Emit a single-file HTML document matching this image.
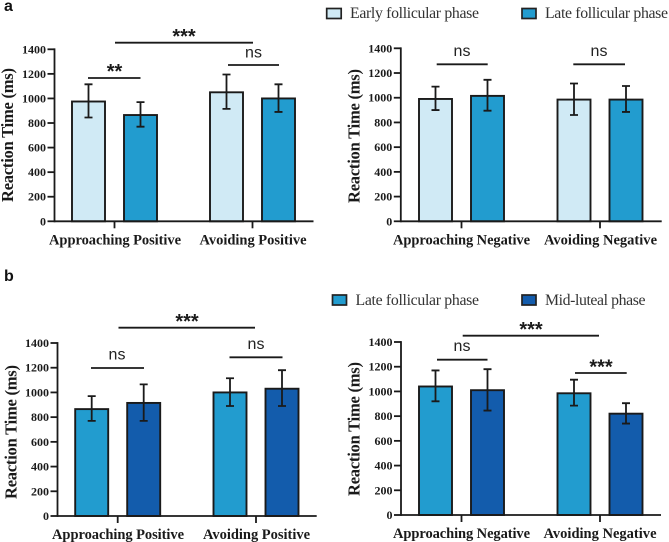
<!DOCTYPE html>
<html>
<head>
<meta charset="utf-8">
<style>
html,body{margin:0;padding:0;background:#fff;width:669px;height:542px;overflow:hidden}
svg{display:block}
text{font-family:"Liberation Serif",serif;fill:#1a1a1a}
.tick{font-size:12px;font-weight:bold}
.cat{font-size:14.5px;font-weight:bold}
.yt{font-size:16.5px;font-weight:bold}
.leg{font-size:15.8px;fill:#333}
.ns{font-family:"Liberation Sans",sans-serif;font-size:16px;fill:#222}
.star{font-family:"Liberation Sans",sans-serif;font-size:20px;font-weight:bold;fill:#1a1a1a}
.pl{font-family:"Liberation Sans",sans-serif;font-size:16px;font-weight:bold;fill:#111}
</style>
</head>
<body>
<svg id="figure" xmlns="http://www.w3.org/2000/svg" width="669" height="542" viewBox="0 0 669 542">
  <text class="pl" x="4" y="11">a</text>
  <text class="pl" x="4" y="281">b</text>

  <g>
    <rect x="326.7" y="8.5" width="14.5" height="10" fill="#d0eaf5" stroke="#222" stroke-width="1.7"/>
    <text class="leg" x="350" y="18" textLength="129" lengthAdjust="spacing">Early follicular phase</text>
    <rect x="522" y="8.5" width="14" height="10" fill="#229ccf" stroke="#222" stroke-width="1.7"/>
    <text class="leg" x="545" y="18" textLength="123" lengthAdjust="spacing">Late follicular phase</text>
  </g>
  <g>
    <rect x="332.5" y="295" width="14" height="10" fill="#229ccf" stroke="#222" stroke-width="1.7"/>
    <text class="leg" x="355.5" y="305" textLength="123.5" lengthAdjust="spacing">Late follicular phase</text>
    <rect x="522" y="295" width="14" height="10" fill="#135cac" stroke="#222" stroke-width="1.7"/>
    <text class="leg" x="545" y="305" textLength="100.5" lengthAdjust="spacing">Mid-luteal phase</text>
  </g>

  <g>
    <line x1="115" x2="253" y1="42.7" y2="42.7" stroke="#1a1a1a" stroke-width="1.8"/>
    <text class="star" x="184" y="43" text-anchor="middle">***</text>
    <line x1="88" x2="140.5" y1="78" y2="78" stroke="#1a1a1a" stroke-width="1.8"/>
    <text class="star" x="114.5" y="78" text-anchor="middle">**</text>
    <line x1="228" x2="279" y1="65" y2="65" stroke="#1a1a1a" stroke-width="1.8"/>
    <text class="ns" x="253.5" y="57.3" text-anchor="middle">ns</text>

    <line x1="436.7" x2="487.7" y1="64.3" y2="64.3" stroke="#1a1a1a" stroke-width="1.8"/>
    <text class="ns" x="462" y="56" text-anchor="middle">ns</text>
    <line x1="573.3" x2="625" y1="64.3" y2="64.3" stroke="#1a1a1a" stroke-width="1.8"/>
    <text class="ns" x="599" y="56" text-anchor="middle">ns</text>

    <line x1="118.5" x2="255" y1="327.7" y2="327.7" stroke="#1a1a1a" stroke-width="1.8"/>
    <text class="star" x="187" y="328" text-anchor="middle">***</text>
    <line x1="91" x2="144" y1="368" y2="368" stroke="#1a1a1a" stroke-width="1.8"/>
    <text class="ns" x="117" y="359.5" text-anchor="middle">ns</text>
    <line x1="229.5" x2="282.5" y1="357.3" y2="357.3" stroke="#1a1a1a" stroke-width="1.8"/>
    <text class="ns" x="256" y="349" text-anchor="middle">ns</text>

    <line x1="462.7" x2="599" y1="335.7" y2="335.7" stroke="#1a1a1a" stroke-width="1.8"/>
    <text class="star" x="531" y="336" text-anchor="middle">***</text>
    <line x1="437" x2="487.5" y1="359.7" y2="359.7" stroke="#1a1a1a" stroke-width="1.8"/>
    <text class="ns" x="462" y="351" text-anchor="middle">ns</text>
    <line x1="575" x2="626.7" y1="373" y2="373" stroke="#1a1a1a" stroke-width="1.8"/>
    <text class="star" x="601" y="373.7" text-anchor="middle">***</text>
  </g>
</svg>
<script>
// Shared axis ticks
var yTicks = [0, 200, 400, 600, 800, 1000, 1200, 1400];

// Panel a, positive
var aLeftCategories = ['Approaching Positive', 'Avoiding Positive'];
var aLeftMeans1 = [975, 1050];
var aLeftHigh1 = [1115, 1195];
var aLeftLow1 = [845, 915];
var aLeftMeans2 = [865, 1000];
var aLeftHigh2 = [970, 1115];
var aLeftLow2 = [770, 890];

// Panel a, negative
var aRightCategories = ['Approaching Negative', 'Avoiding Negative'];
var aRightMeans1 = [990, 985];
var aRightHigh1 = [1090, 1115];
var aRightLow1 = [900, 860];
var aRightMeans2 = [1015, 985];
var aRightHigh2 = [1145, 1095];
var aRightLow2 = [895, 885];

// Panel b, positive
var bLeftCategories = ['Approaching Positive', 'Avoiding Positive'];
var bLeftMeans1 = [865, 1000];
var bLeftHigh1 = [970, 1115];
var bLeftLow1 = [770, 890];
var bLeftMeans2 = [915, 1030];
var bLeftHigh2 = [1065, 1180];
var bLeftLow2 = [770, 890];

// Panel b, negative
var bRightCategories = ['Approaching Negative', 'Avoiding Negative'];
var bRightMeans1 = [1040, 985];
var bRightHigh1 = [1170, 1095];
var bRightLow1 = [920, 885];
var bRightMeans2 = [1010, 820];
var bRightHigh2 = [1180, 905];
var bRightLow2 = [845, 740];

var NS = 'http://www.w3.org/2000/svg';
var figure = document.getElementById('figure');
var INK = '#1a1a1a';

function make(parent, tag, attrs) {
  var el = document.createElementNS(NS, tag);
  for (var k in attrs) { el.setAttribute(k, attrs[k]); }
  parent.appendChild(el);
  return el;
}

function drawPanel(cfg) {
  var g = make(figure, 'g', {});
  
  

  function yScale(v) { return cfg.y0 + (cfg.y1400 - cfg.y0) * v / 1400; }
  function xScale(groupIndex) { return cfg.first + groupIndex * cfg.groupStep; }

  function drawSeries(means, highs, lows, offset, fill, seriesName) {
    means.forEach(function (m, i) {
      var left = xScale(i) + offset - cfg.barW / 2;
      var cx = left + cfg.barW / 2;
      var bar = make(g, 'rect', { x: left, y: yScale(m), width: cfg.barW, height: cfg.y0 - yScale(m), fill: fill, stroke: INK, 'stroke-width': 1.9 });
      
      

      var err = make(g, 'path', {
        d: 'M' + (cx - 4) + ' ' + yScale(highs[i]) + 'H' + (cx + 4) +
           'M' + cx + ' ' + yScale(highs[i]) + 'V' + yScale(lows[i]) +
           'M' + (cx - 4) + ' ' + yScale(lows[i]) + 'H' + (cx + 4),
        fill: 'none', stroke: INK, 'stroke-width': 1.8
      });
      
      
    });
  }

  drawSeries(cfg.m1, cfg.h1, cfg.l1, -cfg.barGap / 2, cfg.c1, cfg.s1);
  drawSeries(cfg.m2, cfg.h2, cfg.l2, cfg.barGap / 2, cfg.c2, cfg.s2);

  var yAxis = make(g, 'line', { x1: cfg.axisX, x2: cfg.axisX, y1: yScale(1400) - 0.9, y2: cfg.y0 + 0.9, stroke: INK, 'stroke-width': 1.8 });
  
  

  var xAxis = make(g, 'line', { x1: cfg.axisX, x2: cfg.xEnd, y1: cfg.y0, y2: cfg.y0, stroke: INK, 'stroke-width': 1.8 });
  
  

  yTicks.forEach(function (t) {
    var tm = make(g, 'line', { x1: cfg.axisX - 7, x2: cfg.axisX, y1: yScale(t), y2: yScale(t), stroke: INK, 'stroke-width': 1.8 });
    
    
    var lb = make(g, 'text', { x: cfg.axisX - 8.5, y: yScale(t) + 4, 'text-anchor': 'end', 'class': 'tick' });
    
    
    lb.textContent = t;
  });

  cfg.cats.forEach(function (c, i) {
    var tm = make(g, 'line', { x1: xScale(i), x2: xScale(i), y1: cfg.y0, y2: cfg.y0 + 7, stroke: INK, 'stroke-width': 1.8 });
    
    
    var lb = make(g, 'text', { x: cfg.catX[i], y: cfg.y0 + 23, 'text-anchor': 'middle', 'class': 'cat', textLength: cfg.catW[i], lengthAdjust: 'spacing' });
    
    
    lb.textContent = c;
  });

  var yTitle = make(g, 'text', { x: 0, y: 0, 'class': 'yt', 'text-anchor': 'middle', textLength: 134, lengthAdjust: 'spacing',
    transform: 'translate(' + cfg.titleX + ' ' + cfg.titleY + ') rotate(-90)' });
  
  
  yTitle.textContent = 'Reaction Time (ms)';
}

drawPanel({ name: 'panel-a-positive', axisX: 54.5, xEnd: 313.5, y0: 221.3, y1400: 49.3, first: 114.5, groupStep: 138, barW: 33, barGap: 52,
  cats: aLeftCategories, catX: [115, 253], catW: [132, 107], titleX: 13, titleY: 135,
  m1: aLeftMeans1, h1: aLeftHigh1, l1: aLeftLow1, m2: aLeftMeans2, h2: aLeftHigh2, l2: aLeftLow2,
  c1: '#d0eaf5', c2: '#229ccf', s1: 'early-follicular', s2: 'late-follicular' });

drawPanel({ name: 'panel-a-negative', axisX: 400.8, xEnd: 661.7, y0: 221.3, y1400: 48.3, first: 461.5, groupStep: 138.5, barW: 33, barGap: 52,
  cats: aRightCategories, catX: [461.5, 600.5], catW: [137, 113], titleX: 359.5, titleY: 136,
  m1: aRightMeans1, h1: aRightHigh1, l1: aRightLow1, m2: aRightMeans2, h2: aRightHigh2, l2: aRightLow2,
  c1: '#d0eaf5', c2: '#229ccf', s1: 'early-follicular', s2: 'late-follicular' });

drawPanel({ name: 'panel-b-positive', axisX: 57.5, xEnd: 316.7, y0: 516, y1400: 343, first: 117.7, groupStep: 138.3, barW: 33, barGap: 52,
  cats: bLeftCategories, catX: [118, 256.5], catW: [132, 107], titleX: 16.5, titleY: 432,
  m1: bLeftMeans1, h1: bLeftHigh1, l1: bLeftLow1, m2: bLeftMeans2, h2: bLeftHigh2, l2: bLeftLow2,
  c1: '#229ccf', c2: '#135cac', s1: 'late-follicular', s2: 'mid-luteal' });

drawPanel({ name: 'panel-b-negative', axisX: 401, xEnd: 661, y0: 515, y1400: 342, first: 461.5, groupStep: 138.5, barW: 33, barGap: 52,
  cats: bRightCategories, catX: [461.5, 600], catW: [137, 113], titleX: 359.5, titleY: 429,
  m1: bRightMeans1, h1: bRightHigh1, l1: bRightLow1, m2: bRightMeans2, h2: bRightHigh2, l2: bRightLow2,
  c1: '#229ccf', c2: '#135cac', s1: 'late-follicular', s2: 'mid-luteal' });
</script>
</body>
</html>
